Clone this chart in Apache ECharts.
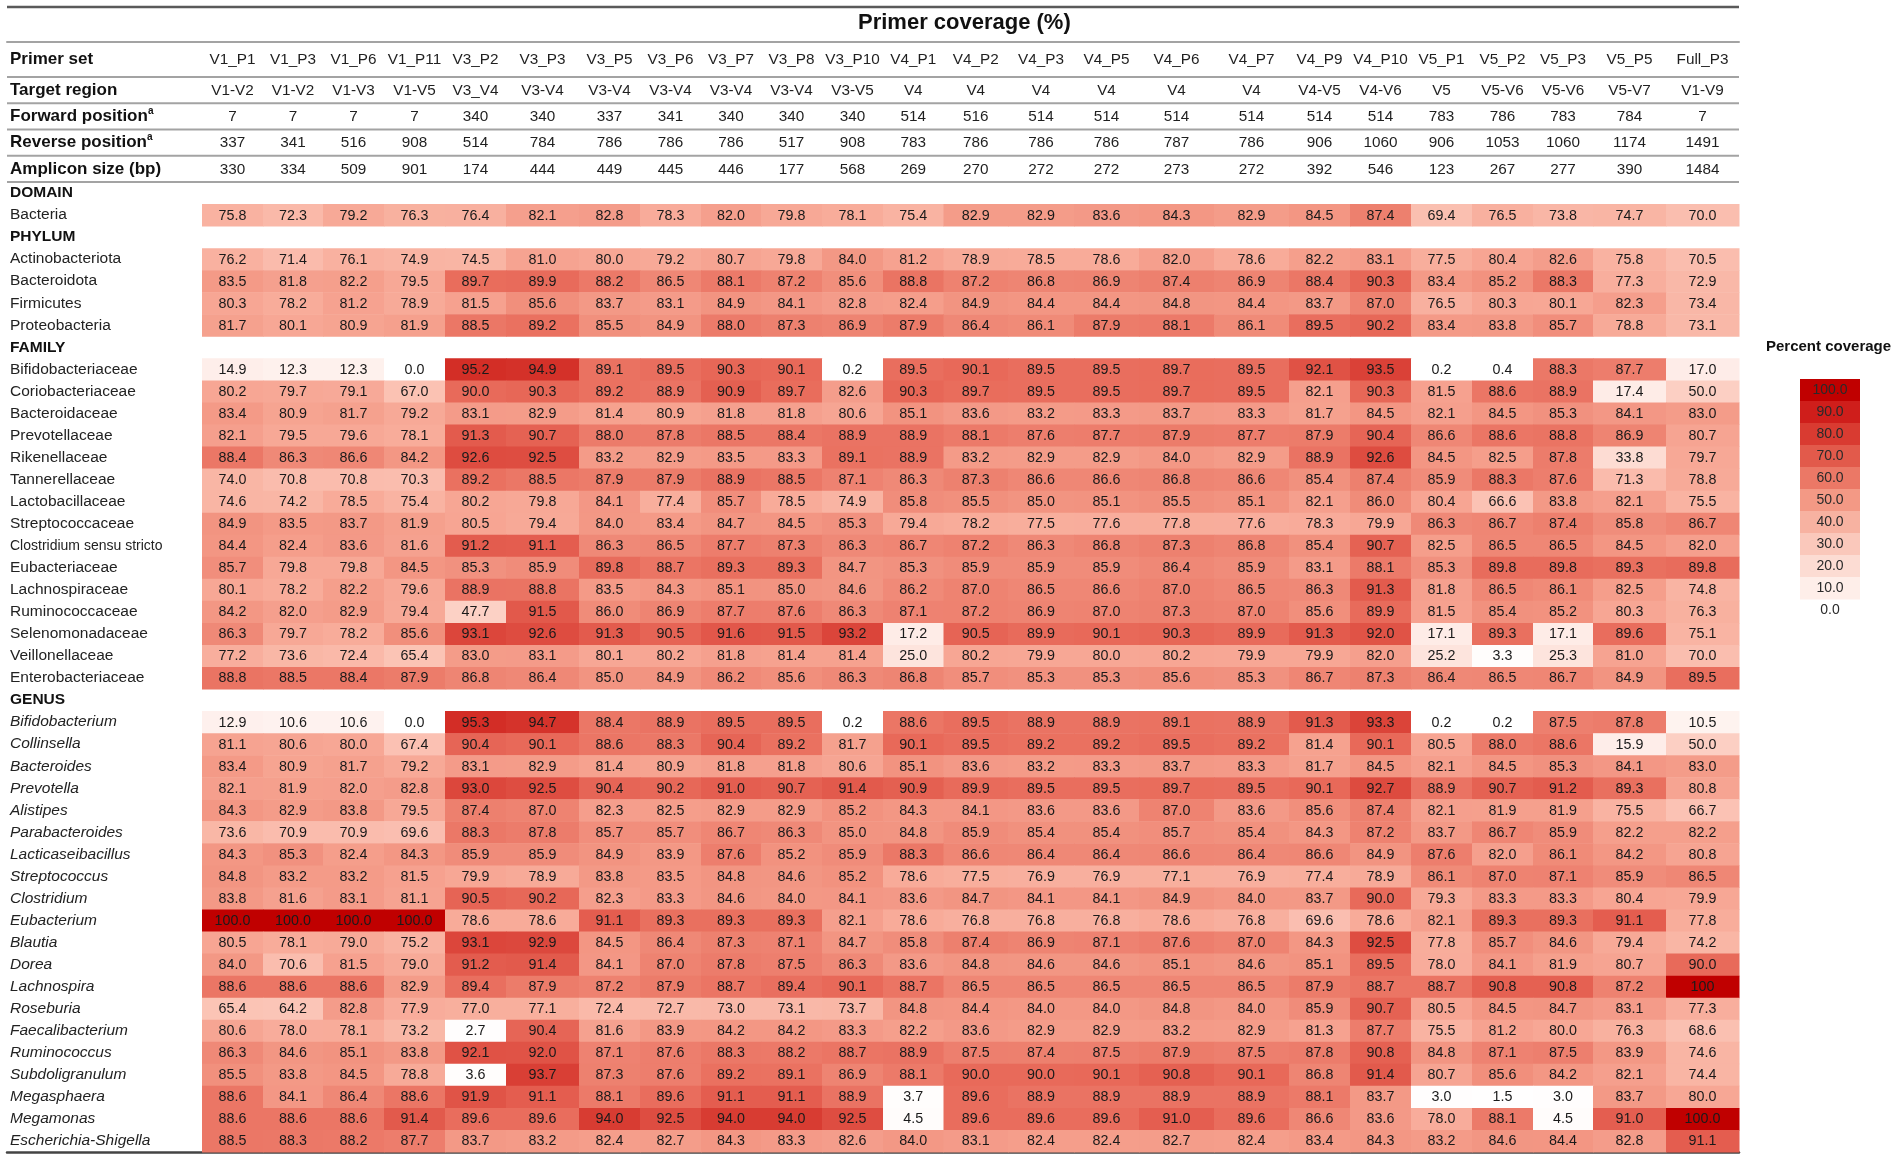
<!DOCTYPE html>
<html><head><meta charset="utf-8">
<script src="https://cdn.jsdelivr.net/npm/echarts@6/dist/echarts.min.js"></script>
<style>html,body{margin:0;padding:0;background:#fff}#chart{width:1902px;height:1160px}</style>
</head><body><div id="chart"></div>
<script>
// ---------------- DATA ----------------
const primerSets = ['V1_P1','V1_P3','V1_P6','V1_P11','V3_P2','V3_P3','V3_P5','V3_P6','V3_P7','V3_P8','V3_P10','V4_P1','V4_P2','V4_P3','V4_P5','V4_P6','V4_P7','V4_P9','V4_P10','V5_P1','V5_P2','V5_P3','V5_P5','Full_P3'];
const targetRegions = ['V1-V2','V1-V2','V1-V3','V1-V5','V3_V4','V3-V4','V3-V4','V3-V4','V3-V4','V3-V4','V3-V5','V4','V4','V4','V4','V4','V4','V4-V5','V4-V6','V5','V5-V6','V5-V6','V5-V7','V1-V9'];
const forwardPositions = [7,7,7,7,340,340,337,341,340,340,340,514,516,514,514,514,514,514,514,783,786,783,784,7];
const reversePositions = [337,341,516,908,514,784,786,786,786,517,908,783,786,786,786,787,786,906,1060,906,1053,1060,1174,1491];
const ampliconSizes = [330,334,509,901,174,444,449,445,446,177,568,269,270,272,272,273,272,392,546,123,267,277,390,1484];
const headerRowNames = ['Target region','Forward position','Reverse position','Amplicon size (bp)'];

const domainTaxa = ['Bacteria'];
const domainValues = [
  [75.8,72.3,79.2,76.3,76.4,82.1,82.8,78.3,82.0,79.8,78.1,75.4,82.9,82.9,83.6,84.3,82.9,84.5,87.4,69.4,76.5,73.8,74.7,70.0]
];
const phylumTaxa = ['Actinobacteriota','Bacteroidota','Firmicutes','Proteobacteria'];
const phylumValues = [
  [76.2,71.4,76.1,74.9,74.5,81.0,80.0,79.2,80.7,79.8,84.0,81.2,78.9,78.5,78.6,82.0,78.6,82.2,83.1,77.5,80.4,82.6,75.8,70.5],
  [83.5,81.8,82.2,79.5,89.7,89.9,88.2,86.5,88.1,87.2,85.6,88.8,87.2,86.8,86.9,87.4,86.9,88.4,90.3,83.4,85.2,88.3,77.3,72.9],
  [80.3,78.2,81.2,78.9,81.5,85.6,83.7,83.1,84.9,84.1,82.8,82.4,84.9,84.4,84.4,84.8,84.4,83.7,87.0,76.5,80.3,80.1,82.3,73.4],
  [81.7,80.1,80.9,81.9,88.5,89.2,85.5,84.9,88.0,87.3,86.9,87.9,86.4,86.1,87.9,88.1,86.1,89.5,90.2,83.4,83.8,85.7,78.8,73.1]
];
const familyTaxa = ['Bifidobacteriaceae','Coriobacteriaceae','Bacteroidaceae','Prevotellaceae','Rikenellaceae','Tannerellaceae','Lactobacillaceae','Streptococcaceae','Clostridium sensu stricto','Eubacteriaceae','Lachnospiraceae','Ruminococcaceae','Selenomonadaceae','Veillonellaceae','Enterobacteriaceae'];
const familyValues = [
  [14.9,12.3,12.3,0.0,95.2,94.9,89.1,89.5,90.3,90.1,0.2,89.5,90.1,89.5,89.5,89.7,89.5,92.1,93.5,0.2,0.4,88.3,87.7,17.0],
  [80.2,79.7,79.1,67.0,90.0,90.3,89.2,88.9,90.9,89.7,82.6,90.3,89.7,89.5,89.5,89.7,89.5,82.1,90.3,81.5,88.6,88.9,17.4,50.0],
  [83.4,80.9,81.7,79.2,83.1,82.9,81.4,80.9,81.8,81.8,80.6,85.1,83.6,83.2,83.3,83.7,83.3,81.7,84.5,82.1,84.5,85.3,84.1,83.0],
  [82.1,79.5,79.6,78.1,91.3,90.7,88.0,87.8,88.5,88.4,88.9,88.9,88.1,87.6,87.7,87.9,87.7,87.9,90.4,86.6,88.6,88.8,86.9,80.7],
  [88.4,86.3,86.6,84.2,92.6,92.5,83.2,82.9,83.5,83.3,89.1,88.9,83.2,82.9,82.9,84.0,82.9,88.9,92.6,84.5,82.5,87.8,33.8,79.7],
  [74.0,70.8,70.8,70.3,89.2,88.5,87.9,87.9,88.9,88.5,87.1,86.3,87.3,86.6,86.6,86.8,86.6,85.4,87.4,85.9,88.3,87.6,71.3,78.8],
  [74.6,74.2,78.5,75.4,80.2,79.8,84.1,77.4,85.7,78.5,74.9,85.8,85.5,85.0,85.1,85.5,85.1,82.1,86.0,80.4,66.6,83.8,82.1,75.5],
  [84.9,83.5,83.7,81.9,80.5,79.4,84.0,83.4,84.7,84.5,85.3,79.4,78.2,77.5,77.6,77.8,77.6,78.3,79.9,86.3,86.7,87.4,85.8,86.7],
  [84.4,82.4,83.6,81.6,91.2,91.1,86.3,86.5,87.7,87.3,86.3,86.7,87.2,86.3,86.8,87.3,86.8,85.4,90.7,82.5,86.5,86.5,84.5,82.0],
  [85.7,79.8,79.8,84.5,85.3,85.9,89.8,88.7,89.3,89.3,84.7,85.3,85.9,85.9,85.9,86.4,85.9,83.1,88.1,85.3,89.8,89.8,89.3,89.8],
  [80.1,78.2,82.2,79.6,88.9,88.8,83.5,84.3,85.1,85.0,84.6,86.2,87.0,86.5,86.6,87.0,86.5,86.3,91.3,81.8,86.5,86.1,82.5,74.8],
  [84.2,82.0,82.9,79.4,47.7,91.5,86.0,86.9,87.7,87.6,86.3,87.1,87.2,86.9,87.0,87.3,87.0,85.6,89.9,81.5,85.4,85.2,80.3,76.3],
  [86.3,79.7,78.2,85.6,93.1,92.6,91.3,90.5,91.6,91.5,93.2,17.2,90.5,89.9,90.1,90.3,89.9,91.3,92.0,17.1,89.3,17.1,89.6,75.1],
  [77.2,73.6,72.4,65.4,83.0,83.1,80.1,80.2,81.8,81.4,81.4,25.0,80.2,79.9,80.0,80.2,79.9,79.9,82.0,25.2,3.3,25.3,81.0,70.0],
  [88.8,88.5,88.4,87.9,86.8,86.4,85.0,84.9,86.2,85.6,86.3,86.8,85.7,85.3,85.3,85.6,85.3,86.7,87.3,86.4,86.5,86.7,84.9,89.5]
];
const genusTaxa = ['Bifidobacterium','Collinsella','Bacteroides','Prevotella','Alistipes','Parabacteroides','Lacticaseibacillus','Streptococcus','Clostridium','Eubacterium','Blautia','Dorea','Lachnospira','Roseburia','Faecalibacterium','Ruminococcus','Subdoligranulum','Megasphaera','Megamonas','Escherichia-Shigella'];
const genusValues = [
  [12.9,10.6,10.6,0.0,95.3,94.7,88.4,88.9,89.5,89.5,0.2,88.6,89.5,88.9,88.9,89.1,88.9,91.3,93.3,0.2,0.2,87.5,87.8,10.5],
  [81.1,80.6,80.0,67.4,90.4,90.1,88.6,88.3,90.4,89.2,81.7,90.1,89.5,89.2,89.2,89.5,89.2,81.4,90.1,80.5,88.0,88.6,15.9,50.0],
  [83.4,80.9,81.7,79.2,83.1,82.9,81.4,80.9,81.8,81.8,80.6,85.1,83.6,83.2,83.3,83.7,83.3,81.7,84.5,82.1,84.5,85.3,84.1,83.0],
  [82.1,81.9,82.0,82.8,93.0,92.5,90.4,90.2,91.0,90.7,91.4,90.9,89.9,89.5,89.5,89.7,89.5,90.1,92.7,88.9,90.7,91.2,89.3,80.8],
  [84.3,82.9,83.8,79.5,87.4,87.0,82.3,82.5,82.9,82.9,85.2,84.3,84.1,83.6,83.6,87.0,83.6,85.6,87.4,82.1,81.9,81.9,75.5,66.7],
  [73.6,70.9,70.9,69.6,88.3,87.8,85.7,85.7,86.7,86.3,85.0,84.8,85.9,85.4,85.4,85.7,85.4,84.3,87.2,83.7,86.7,85.9,82.2,82.2],
  [84.3,85.3,82.4,84.3,85.9,85.9,84.9,83.9,87.6,85.2,85.9,88.3,86.6,86.4,86.4,86.6,86.4,86.6,84.9,87.6,82.0,86.1,84.2,80.8],
  [84.8,83.2,83.2,81.5,79.9,78.9,83.8,83.5,84.8,84.6,85.2,78.6,77.5,76.9,76.9,77.1,76.9,77.4,78.9,86.1,87.0,87.1,85.9,86.5],
  [83.8,81.6,83.1,81.1,90.5,90.2,82.3,83.3,84.6,84.0,84.1,83.6,84.7,84.1,84.1,84.9,84.0,83.7,90.0,79.3,83.3,83.3,80.4,79.9],
  [100.0,100.0,100.0,100.0,78.6,78.6,91.1,89.3,89.3,89.3,82.1,78.6,76.8,76.8,76.8,78.6,76.8,69.6,78.6,82.1,89.3,89.3,91.1,77.8],
  [80.5,78.1,79.0,75.2,93.1,92.9,84.5,86.4,87.3,87.1,84.7,85.8,87.4,86.9,87.1,87.6,87.0,84.3,92.5,77.8,85.7,84.6,79.4,74.2],
  [84.0,70.6,81.5,79.0,91.2,91.4,84.1,87.0,87.8,87.5,86.3,83.6,84.8,84.6,84.6,85.1,84.6,85.1,89.5,78.0,84.1,81.9,80.7,90.0],
  [88.6,88.6,88.6,82.9,89.4,87.9,87.2,87.9,88.7,89.4,90.1,88.7,86.5,86.5,86.5,86.5,86.5,87.9,88.7,88.7,90.8,90.8,87.2,'100'],
  [65.4,64.2,82.8,77.9,77.0,77.1,72.4,72.7,73.0,73.1,73.7,84.8,84.4,84.0,84.0,84.8,84.0,85.9,90.7,80.5,84.5,84.7,83.1,77.3],
  [80.6,78.0,78.1,73.2,2.7,90.4,81.6,83.9,84.2,84.2,83.3,82.2,83.6,82.9,82.9,83.2,82.9,81.3,87.7,75.5,81.2,80.0,76.3,68.6],
  [86.3,84.6,85.1,83.8,92.1,92.0,87.1,87.6,88.3,88.2,88.7,88.9,87.5,87.4,87.5,87.9,87.5,87.8,90.8,84.8,87.1,87.5,83.9,74.6],
  [85.5,83.8,84.5,78.8,3.6,93.7,87.3,87.6,89.2,89.1,86.9,88.1,90.0,90.0,90.1,90.8,90.1,86.8,91.4,80.7,85.6,84.2,82.1,74.4],
  [88.6,84.1,86.4,88.6,91.9,91.1,88.1,89.6,91.1,91.1,88.9,3.7,89.6,88.9,88.9,88.9,88.9,88.1,83.7,3.0,1.5,3.0,83.7,80.0],
  [88.6,88.6,88.6,91.4,89.6,89.6,94.0,92.5,94.0,94.0,92.5,4.5,89.6,89.6,89.6,91.0,89.6,86.6,83.6,78.0,88.1,4.5,91.0,100.0],
  [88.5,88.3,88.2,87.7,83.7,83.2,82.4,82.7,84.3,83.3,82.6,84.0,83.1,82.4,82.4,82.7,82.4,83.4,84.3,83.2,84.6,84.4,82.8,91.1]
];
const legendLevels = [100,90,80,70,60,50,40,30,20,10,0];

// ---------------- STYLE / LAYOUT ----------------
const FONT = '"Liberation Sans", Arial, Helvetica, sans-serif';
const colWidths = [195, 61,60,61,61,61,73,61,61,60,61,61,60.5,64.5,66,65,75,75,61,61,61,61,60,73,73];
const colEdges = [0];
colWidths.forEach(w => colEdges.push(colEdges[colEdges.length - 1] + w));
const tableWidth = colEdges[colEdges.length - 1];
const colCenter = c => (colEdges[c + 1] + colEdges[c + 2]) / 2;
const cellScale = ['#ffffff','#fffcfb','#fef3f0','#feeeea','#feeae4','#fde4dd','#fde0d8','#fddbd2','#fdd7cd','#fcd3c7','#fccfc3','#fcccbf','#fbc8bb','#fbc4b6','#fabeaf','#f9b4a3','#f7a795','#f29481','#e86a5a','#d43028','#c00000'];
const legendPalette = ['#c00000','#cf1e1b','#d93b31','#e25a4b','#eb7866','#f39985','#f7b2a1','#fac8bb','#fcdcd3','#feeee9', null];
const ruleGray = '#a3a3a3';

// ---------------- BUILD ----------------
const sections = [
  {title: 'DOMAIN', taxa: domainTaxa, values: domainValues, kind: 'tax'},
  {title: 'PHYLUM', taxa: phylumTaxa, values: phylumValues, kind: 'tax'},
  {title: 'FAMILY', taxa: familyTaxa, values: familyValues, kind: 'tax'},
  {title: 'GENUS', taxa: genusTaxa, values: genusValues, kind: 'gen'}
];
const bodyRows = [];
sections.forEach(s => {
  bodyRows.push({label: s.title, kind: 'sec'});
  s.taxa.forEach((t, i) => bodyRows.push({label: t, kind: t === 'Clostridium sensu stricto' ? 'small' : s.kind, values: s.values[i]}));
});
const cellData = [], cellTexts = [];
bodyRows.forEach((r, ri) => {
  if (!r.values) return;
  r.values.forEach((v, c) => {
    const num = Number(v);
    cellData.push([colCenter(c), ri, num, c]);
    cellTexts.push(typeof v === 'string' ? v : num.toFixed(1));
  });
});
const headerRows = [targetRegions, forwardPositions, reversePositions, ampliconSizes];

function txt(x, y, text, extra) {
  return {type: 'text', x: x, y: y, style: Object.assign({text: String(text), fill: '#1a1a1a', fontFamily: FONT, fontSize: 15, align: 'center', verticalAlign: 'middle'}, extra || {})};
}
function headerRender(rowsArr) {
  return function (params, api) {
    const r = api.value(1);
    const h = api.size([0, 1])[1];
    const children = [];
    const vals = rowsArr[r];
    vals.forEach((v, c) => {
      const p = api.coord([colCenter(c), r]);
      children.push(txt(p[0], p[1] + 0.5, v, {fontSize: 15.3, fill: '#1f1f1f'}));
    });
    const a = api.coord([0, r]), b = api.coord([tableWidth, r]);
    children.push({type: 'line', shape: {x1: a[0], y1: a[1] + h / 2, x2: b[0], y2: b[1] + h / 2}, style: {stroke: ruleGray, lineWidth: 2}});
    return {type: 'group', children: children};
  };
}

const hiddenX = (gi, extra) => Object.assign({type: 'value', gridIndex: gi, min: 0, max: tableWidth, axisLabel: {show: false}, axisTick: {show: false}, splitLine: {show: false}, axisLine: {show: false}}, extra || {});
const labelRich = {
  b: {fontFamily: FONT, fontWeight: 'bold', fontSize: 17, color: '#111', lineHeight: 20},
  sup: {fontFamily: FONT, fontWeight: 'bold', fontSize: 10, color: '#111', verticalAlign: 'top', lineHeight: 20},
  sec: {fontFamily: FONT, fontWeight: 'bold', fontSize: 15.5, color: '#111'},
  tax: {fontFamily: FONT, fontSize: 15.5, color: '#222'},
  gen: {fontFamily: FONT, fontSize: 15.5, fontStyle: 'italic', color: '#222'},
  small: {fontFamily: FONT, fontSize: 14, color: '#222'}
};

const option = {
  animation: false,
  backgroundColor: '#ffffff',
  title: [
    {text: 'Primer coverage (%)', left: 858, top: 12, padding: 0, textStyle: {fontFamily: FONT, fontSize: 22, fontWeight: 'bold', color: '#111'}},
    {text: 'Percent coverage', left: 1766, top: 339, padding: 0, textStyle: {fontFamily: FONT, fontSize: 15, fontWeight: 'bold', color: '#111'}}
  ],
  graphic: [
    {type: 'line', shape: {x1: 7, y1: 7, x2: 7 + tableWidth, y2: 7}, style: {stroke: '#5a5a5a', lineWidth: 2.5}, silent: true}
  ],
  grid: [
    {left: 7, width: tableWidth, top: 42, height: 35},
    {left: 7, width: tableWidth, top: 77, height: 105},
    {left: 7, width: tableWidth, top: 182, height: 970},
    {left: 1800, width: 60, top: 379, height: 242}
  ],
  xAxis: [
    hiddenX(0, {position: 'top', axisLine: {show: true, lineStyle: {color: ruleGray, width: 2}}}),
    hiddenX(1),
    hiddenX(2, {position: 'bottom', axisLine: {show: true, lineStyle: {color: '#444', width: 2.5}}}),
    {type: 'value', gridIndex: 3, min: 0, max: 1, show: false}
  ],
  yAxis: [
    {type: 'category', gridIndex: 0, inverse: true, data: ['Primer set'], axisLine: {show: false}, axisTick: {show: false},
     axisLabel: {inside: true, margin: 3, formatter: v => '{b|' + v + '}', rich: labelRich}},
    {type: 'category', gridIndex: 1, inverse: true, data: headerRowNames, axisLine: {show: false}, axisTick: {show: false},
     axisLabel: {inside: true, margin: 3, rich: labelRich,
       formatter: (v, i) => (v.indexOf('position') >= 0 ? '{b|' + v + '}{sup|a}' : '{b|' + v + '}')}},
    {type: 'category', gridIndex: 2, inverse: true, data: bodyRows.map(r => r.label), axisLine: {show: false}, axisTick: {show: false},
     axisLabel: {inside: true, margin: 3, interval: 0, rich: labelRich,
       formatter: (v, i) => '{' + bodyRows[i].kind + '|' + v + '}'}},
    {type: 'category', gridIndex: 3, inverse: true, data: legendLevels.map(v => v.toFixed(1)), show: false}
  ],
  visualMap: {show: false, type: 'continuous', min: 0, max: 100, dimension: 2, seriesIndex: 2, inRange: {color: cellScale}},
  series: [
    {type: 'custom', xAxisIndex: 0, yAxisIndex: 0, data: [[0, 0]], renderItem: headerRender([primerSets]), silent: true},
    {type: 'custom', xAxisIndex: 1, yAxisIndex: 1, data: headerRows.map((r, i) => [0, i]), renderItem: headerRender(headerRows), silent: true},
    {type: 'custom', xAxisIndex: 2, yAxisIndex: 2, dimensions: ['x', 'row', 'value', 'col'], encode: {x: 0, y: 1}, data: cellData, silent: true,
     renderItem: function (params, api) {
       const c = api.value(3), r = api.value(1);
       const a = api.coord([colEdges[c + 1], r]);
       const b = api.coord([colEdges[c + 2], r]);
       const h = api.size([0, 1])[1];
       return {type: 'group', children: [
         {type: 'rect', shape: {x: a[0], y: a[1] - h / 2, width: b[0] - a[0] + 0.5, height: h + 0.5}, style: {fill: api.visual('color')}},
         txt((a[0] + b[0]) / 2, a[1] + 0.5, cellTexts[params.dataIndex], {fontSize: 14.3, fill: '#1a1a1a'})
       ]};
     }},
    {type: 'custom', xAxisIndex: 3, yAxisIndex: 3, data: legendLevels.map((v, i) => [0.5, i, v]), silent: true,
     renderItem: function (params, api) {
       const i = api.value(1);
       const a = api.coord([0, i]), b = api.coord([1, i]);
       const h = api.size([0, 1])[1];
       const col = legendPalette[i];
       const ch = [];
       if (col) ch.push({type: 'rect', shape: {x: a[0], y: a[1] - h / 2, width: b[0] - a[0], height: h + 0.5}, style: {fill: col}});
       ch.push(txt((a[0] + b[0]) / 2, a[1] + 0.5, api.value(2).toFixed(1), {fontSize: 14, fill: '#2a2a2a'}));
       return {type: 'group', children: ch};
     }}
  ]
};
const chart = echarts.init(document.getElementById('chart'));
chart.setOption(option);
</script>
</body></html>
